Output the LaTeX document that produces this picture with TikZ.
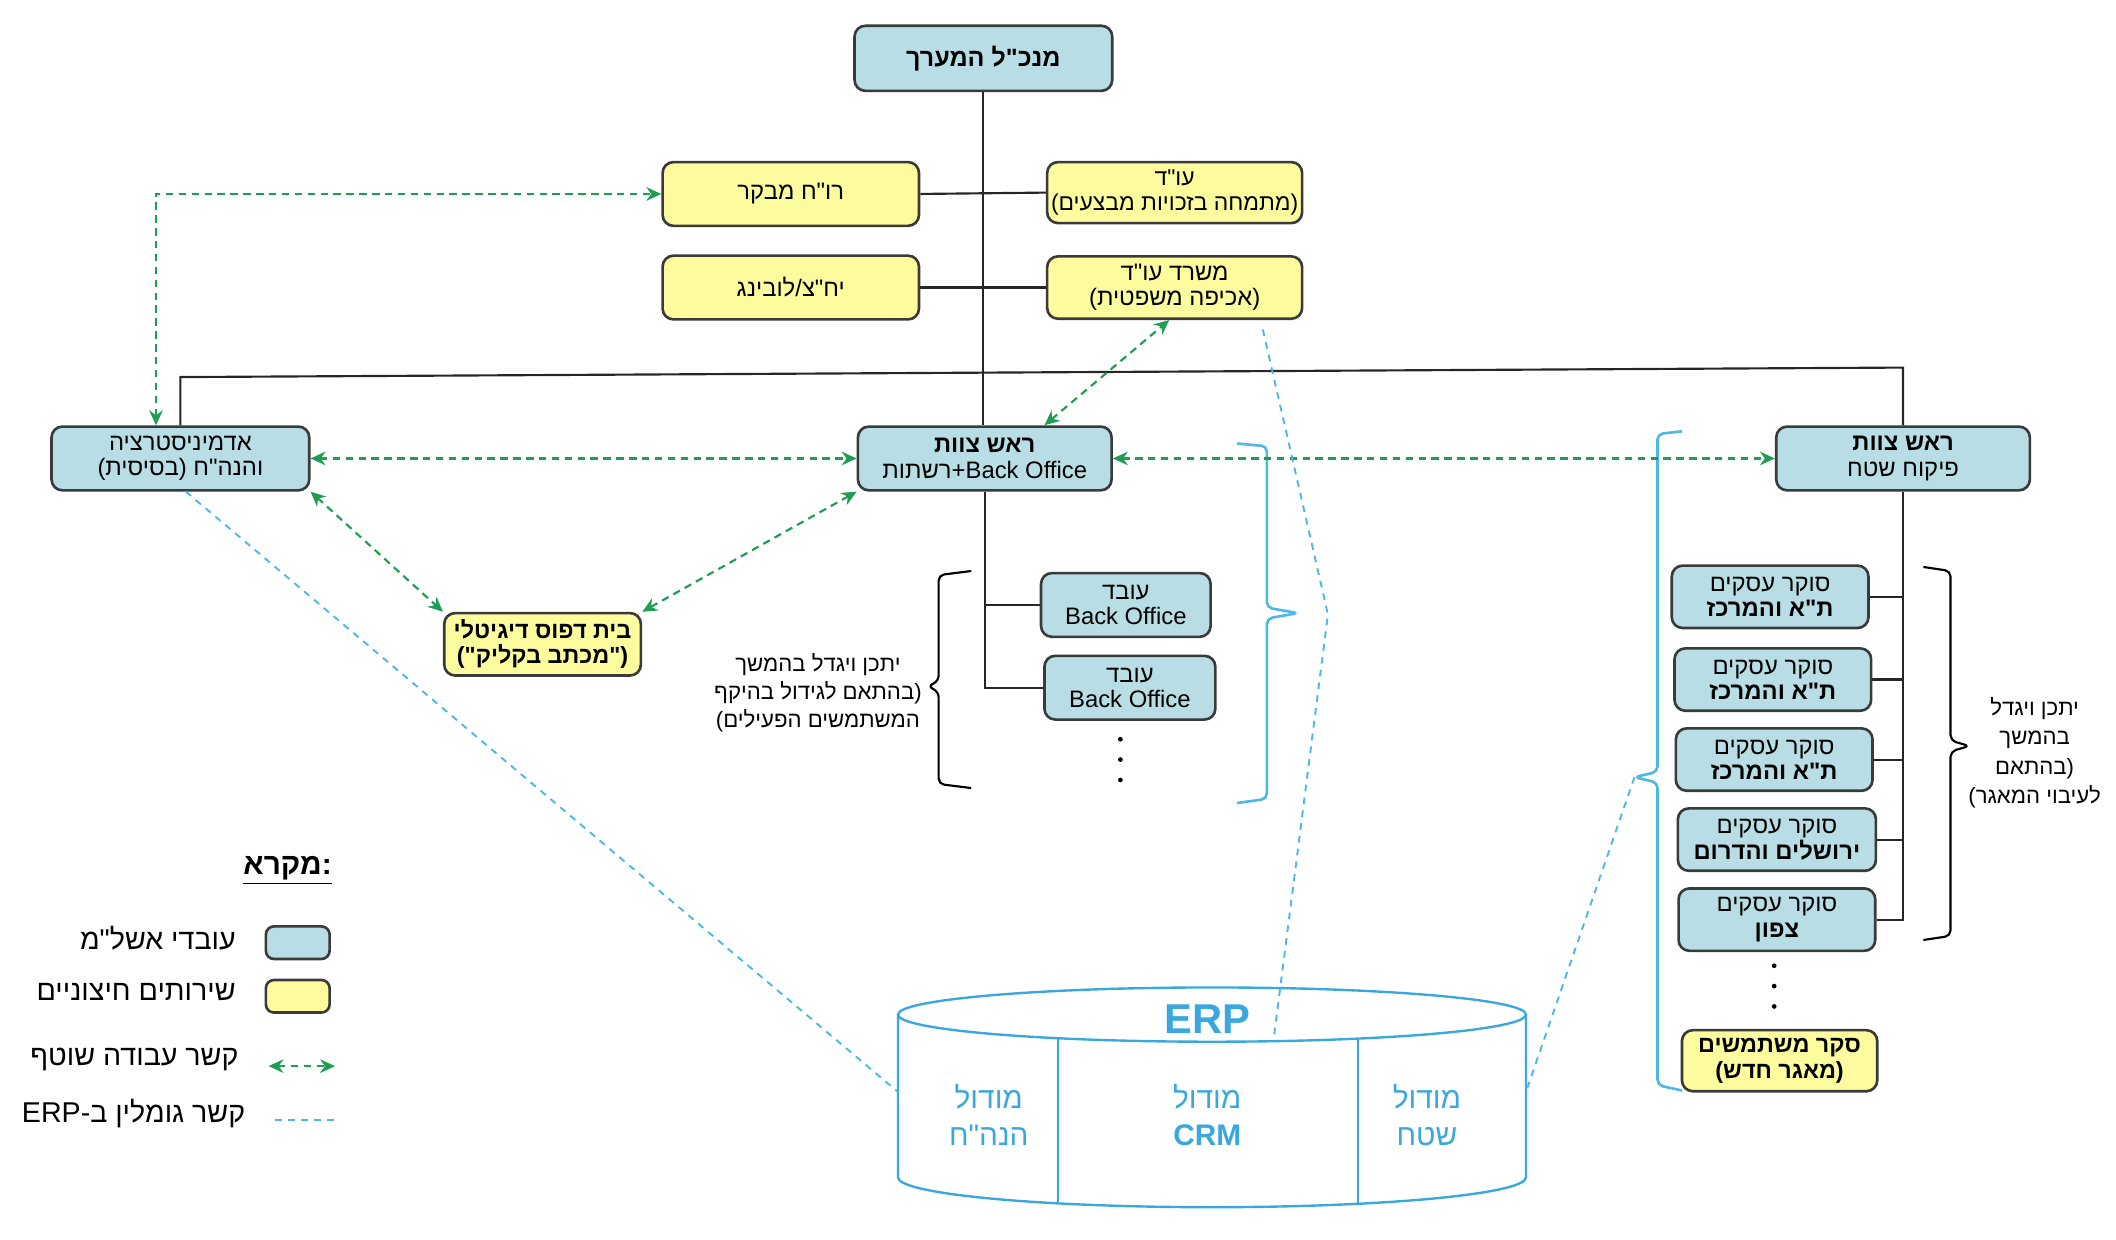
\documentclass[tikz,border=0pt]{standalone}
\usepackage{fontspec}
\setmainfont{Liberation Sans}
\newfontfamily\heb[Script=Hebrew]{Liberation Sans}
\TeXXeTstate=1
\usetikzlibrary{arrows.meta}
\newcommand\hb[1]{{\heb\beginR #1\endR}}
\definecolor{bluef}{HTML}{B8DDE4}
\definecolor{yelf}{HTML}{FCFC9E}
\definecolor{bord}{HTML}{3A3A3A}
\definecolor{grn}{HTML}{1E9E52}
\definecolor{lblue}{HTML}{4DB8E6}
\definecolor{erpc}{HTML}{3AA8DE}
\begin{document}
\begin{tikzpicture}[x=0.2mm,y=-0.2mm,
  box/.style={draw=bord, line width=1.1pt, rounded corners=1.6mm, align=center, inner sep=0pt, font=\fontsize{10}{10.6}\selectfont},
  bbox/.style={box, fill=bluef},
  ybox/.style={box, fill=yelf},
  sz/.style 2 args={minimum width=#1, minimum height=#2},
  org/.style={draw=black!85, line width=0.9pt},
  garrow/.style={draw=grn, line width=0.9pt, dash pattern=on 1.1mm off 0.8mm, {Stealth[length=2.2mm,width=2mm]}-{Stealth[length=2.2mm,width=2mm]}},
  bdash/.style={draw=lblue, line width=0.8pt, dash pattern=on 1mm off 0.9mm},
  brk/.style={line width=0.9pt, rounded corners=0.8mm},
  bbrk/.style={draw=lblue, line width=1.1pt, rounded corners=0.8mm},
  note/.style={align=center, font=\fontsize{9.3}{11.8}\selectfont},
  cyl/.style={draw=erpc, line width=1pt},
  erptext/.style={text=erpc, align=center, font=\fontsize{12.5}{15.5}\selectfont},
  legtext/.style={anchor=east, font=\fontsize{12}{14}\selectfont},
  dot/.style={circle, fill=black, inner sep=0pt, minimum size=0.7mm}
]
\useasboundingbox (0,0) rectangle (1560,914);

% ---- nodes
\node[bbox, sz={38mm}{9.6mm}, font=\fontsize{10.5}{11}\selectfont\bfseries] (gm) at (725,43) {\hb{מנכ"ל המערך}};
\node[ybox, sz={37.8mm}{9.4mm}] (roh) at (583,143) {\hb{רו"ח מבקר}};
\node[ybox, sz={37.6mm}{9mm}, font=\fontsize{9.6}{10.4}\selectfont] (orekh) at (866,142) {\hb{עו"ד}\\\hb{(מתמחה בזכויות מבצעים)}};
\node[ybox, sz={37.8mm}{9.4mm}] (yahats) at (583,212) {\hb{יח"צ/לובינג}};
\node[ybox, sz={37.6mm}{9.2mm}] (misrad) at (866,212) {\hb{משרד עו"ד}\\\hb{(אכיפה משפטית)}};

\node[bbox, sz={38mm}{9.4mm}] (admin) at (133,338) {\hb{אדמיניסטרציה}\\\hb{והנה"ח (בסיסית)}};
\node[bbox, sz={37.4mm}{9.4mm}] (bohead) at (726,338) {\textbf{\hb{ראש צוות}}\\\hb{רשתות}+Back Office};
\node[bbox, sz={37.4mm}{9.4mm}] (field) at (1403,338) {\textbf{\hb{ראש צוות}}\\\hb{פיקוח שטח}};

\node[ybox, sz={29mm}{9.2mm}, font=\fontsize{9.8}{10.6}\selectfont\bfseries] (print) at (400,475) {\hb{בית דפוס דיגיטלי}\\\hb{("מכתב בקליק")}};

\node[bbox, sz={25mm}{9.4mm}] (bo1) at (830,446) {\hb{עובד}\\Back Office};
\node[bbox, sz={25.2mm}{9.4mm}] (bo2) at (833,507) {\hb{עובד}\\Back Office};

\node[bbox, sz={29mm}{9.2mm}] (s1) at (1305,440) {\hb{סוקר עסקים}\\\textbf{\hb{ת"א והמרכז}}};
\node[bbox, sz={29mm}{9.2mm}] (s2) at (1307,501) {\hb{סוקר עסקים}\\\textbf{\hb{ת"א והמרכז}}};
\node[bbox, sz={29mm}{9.2mm}] (s3) at (1308,560) {\hb{סוקר עסקים}\\\textbf{\hb{ת"א והמרכז}}};
\node[bbox, sz={29.2mm}{9.2mm}] (s4) at (1310,619) {\hb{סוקר עסקים}\\\textbf{\hb{ירושלים והדרום}}};
\node[bbox, sz={29mm}{9.2mm}] (s5) at (1310,678) {\hb{סוקר עסקים}\\\textbf{\hb{צפון}}};
\node[ybox, sz={28.8mm}{9mm}, font=\fontsize{9.8}{10.6}\selectfont\bfseries] (survey) at (1312,782) {\hb{סקר משתמשים}\\\hb{(מאגר חדש)}};

% dots
\foreach \yy in {545,560,575} \node[dot] at (826,\yy) {};
\foreach \yy in {712,727,742} \node[dot] at (1308,\yy) {};

% ---- org lines
\draw[org] (gm.south) -- (gm.south |- bohead.north);
\draw[org] (roh.east) -- (orekh.west);
\draw[org] (yahats.east) -- (misrad.west);
\coordinate (barL) at (133,278);
\coordinate (barR) at (1403,271);
\draw[org] (admin.north) -- (barL) -- (barR) -- (field.north);
\draw[org] (bohead.south) -- (bohead.south |- bo2.west) -- (bo2.west);
\draw[org] (bohead.south |- bo1.west) -- (bo1.west);
\draw[org] (field.south) -- (field.south |- s5.east) -- (s5.east);
\foreach \s in {s1,s2,s3,s4} \draw[org] (\s.east) -- (field.south |- \s.east);

% ---- braces
\draw[brk] (716,421) -- (692,424) -- (692,502) -- (684,506) -- (692,510) -- (692,578) -- (716,581);
\draw[brk] (1418,418) -- (1438,421) -- (1438,546) -- (1452,550) -- (1438,554) -- (1438,690) -- (1418,693);
\coordinate (btip) at (957,452);
\coordinate (ftip) at (1205,573);
\draw[bbrk] (912,327) -- (934,329) -- (934,448) -- (btip) -- (934,456) -- (934,589) -- (912,592);
\draw[bbrk] (1240,318) -- (1222,320) -- (1222,569) -- (ftip) -- (1222,577) -- (1222,800) -- (1240,804);

% notes
\node[note] (n1) at (603,511) {\hb{יתכן ויגדל בהמשך}\\\hb{(בהתאם לגידול בהיקף}\\\hb{המשתמשים הפעילים)}};
\node[note, font=\fontsize{9.3}{12.3}\selectfont] (n2) at (1500,555) {\hb{יתכן ויגדל}\\\hb{בהמשך}\\\hb{(בהתאם}\\\hb{לעיבוי המאגר)}};

% ---- ERP cylinder
\coordinate (erpL) at (662,805);
\coordinate (erpR) at (1125,805);
\coordinate (erpT) at (939,766);
\draw[cyl] (893.5,748) ellipse [x radius=46.3mm, y radius=4mm];
\draw[cyl] (662,748) -- (662,868) arc[start angle=180, end angle=360, x radius=46.3mm, y radius=4.4mm] -- (1125,748);
\draw[cyl] (780,765.4) -- (780,887.2);
\draw[cyl] (1001,765.7) -- (1001,887.5);
\node[text=erpc, font=\fontsize{17.5}{20}\selectfont\bfseries] (erp) at (890,751) {ERP};
\node[erptext] (m1) at (729,822) {\hb{מודול}\\\hb{הנה"ח}};
\node[erptext] (m2) at (890,822) {\hb{מודול}\\\textbf{CRM}};
\node[erptext] (m3) at (1052,822) {\hb{מודול}\\\hb{שטח}};

% ---- green arrows
\draw[garrow] ([xshift=-3.6mm]admin.north) |- (roh.west);
\draw[garrow] (admin.east) -- (bohead.west);
\draw[garrow] (bohead.east) -- (field.west);
\draw[garrow] (admin.south east) -- (print.north west);
\draw[garrow] (bohead.south west) -- (print.north east);
\draw[garrow] ([xshift=8.8mm]bohead.north) -- ([xshift=-0.8mm]misrad.south);

% ---- blue dashed
\draw[bdash] ([xshift=0.8mm]admin.south) -- (erpL);
\coordinate (kink) at (979,453);
\draw[bdash] ([xshift=13mm,yshift=-1.4mm]misrad.south) -- (kink) -- (erpT);
\draw[bdash] (ftip) -- (erpR);

% ---- legend
\node[font=\fontsize{12.5}{14}\selectfont\bfseries] (legt) at (212,642) {\underline{\hb{מקרא}:}};
\node[bbox, sz={9.4mm}{4.8mm}, rounded corners=1.2mm] (lb) at (219.5,695) {};
\node[ybox, sz={9.4mm}{4.8mm}, rounded corners=1.2mm] (ly) at (219.5,734.5) {};
\node[legtext] (lbt) at (180,692) {\hb{עובדי אשל"מ}};
\node[legtext] (lyt) at (180,731) {\hb{שירותים חיצוניים}};
\coordinate (lg1) at (198,786);
\coordinate (lg2) at (247,786);
\draw[garrow] (lg1) -- (lg2);
\node[legtext] (lgt) at (182,781) {\hb{קשר עבודה שוטף}};
\coordinate (lbl1) at (203,826);
\coordinate (lbl2) at (247,826);
\draw[bdash] (lbl1) -- (lbl2);
\node[legtext] (lblt) at (187,821) {\hb{קשר גומלין ב-\beginL ERP\endL}};
\end{tikzpicture}
\end{document}
